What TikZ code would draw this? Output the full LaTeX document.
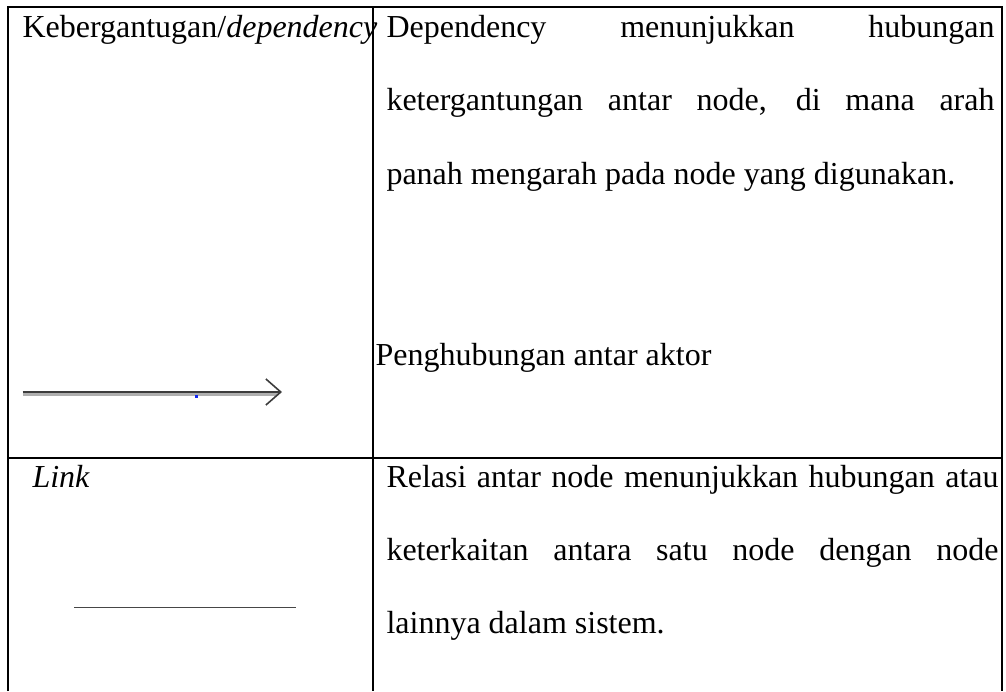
\documentclass[tikz,border=0pt]{standalone}
\usepackage{fontspec}
\setmainfont{Liberation Serif}
\usepackage{xcolor}
\usepackage{tikz}
\usetikzlibrary{arrows.meta}
\definecolor{rulegray}  {RGB}{ 60, 60, 60}
\definecolor{shadegray} {RGB}{175,175,175}
\definecolor{linkgray}  {RGB}{ 70, 70, 70}
\definecolor{dotblue}   {RGB}{ 20, 40,240}
\newcommand{\depline}[1]{\makebox[228pt][s]{#1}}
\newcommand{\linkline}[1]{\makebox[229.5pt][s]{#1}}

\begin{document}
\begin{tikzpicture}[x=0.375pt, y=-0.375pt,
  every node/.style={font=\fontsize{12}{14}\selectfont, inner sep=0pt,
                     anchor=base west},
  tablerule/.style={line width=0.75pt, black}]

\useasboundingbox (0,0) rectangle (1006,691);

% table rules
\draw[tablerule] (8,691) -- (8,7) -- (1002,7) -- (1002,691);
\draw[tablerule] (372.7,7) -- (372.7,691);
\draw[tablerule] (8,458) -- (1002,458);

% row 1
\node (depname) at (22,37) {Kebergantugan/\textit{dependency}};
\node (depdesc1) at (386,37)  {\depline{Dependency menunjukkan hubungan}};
\node (depdesc2) at (386,110) {\depline{ketergantungan antar node, di mana arah}};
\node (depdesc3) at (386,184) {panah mengarah pada node yang digunakan.};
\node (depnote)  at (375,365) {Penghubungan antar aktor};

\coordinate (depstart) at (22.7,392);
\coordinate (depend)   at (282,392);
\draw[shadegray, line width=1.1pt]
  ([yshift=-2.6*0.375pt]depstart) -- ([xshift=-1.5pt, yshift=-2.6*0.375pt]depend);
\draw[rulegray, line width=1.05pt,
      -{Straight Barb[length=5.6pt, width=9.8pt, line width=0.6pt]}]
  (depstart) -- (depend);
\fill[dotblue] (195,395) rectangle (197.5,397.5);

% row 2
\node (linkname)  at (32,487)  {\textit{Link}};
\node (linkdesc1) at (386,487) {\linkline{Relasi antar node menunjukkan hubungan atau}};
\node (linkdesc2) at (386,560) {\linkline{keterkaitan antara satu node dengan node}};
\node (linkdesc3) at (386,633) {lainnya dalam sistem.};

\coordinate (linkstart) at (74,607.7);
\coordinate (linkend)   at (296,607.7);
\draw[linkgray, line width=0.55pt] (linkstart) -- (linkend);

\end{tikzpicture}
\end{document}
